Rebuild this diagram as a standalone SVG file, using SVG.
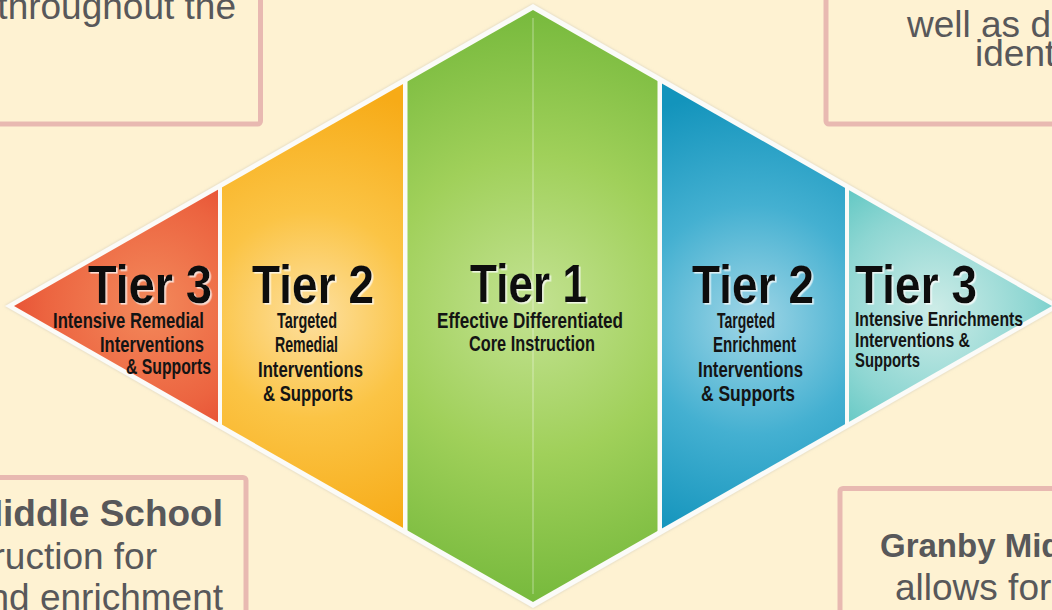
<svg xmlns="http://www.w3.org/2000/svg" width="1052" height="610" viewBox="0 0 1052 610">
  <style>
    .box { fill: #fef2d2; stroke: #e8b9b1; stroke-width: 5; }
    .btxt { font-family: "Liberation Sans", Arial, sans-serif; font-size: 37px; fill: #58585a; }
    .bold { font-weight: bold; }
    .tier { font-family: "Liberation Sans", Arial, sans-serif; font-weight: bold; font-size: 53px; fill: #111; filter: url(#ts); }
    .sub { font-family: "Liberation Sans", Arial, sans-serif; font-weight: bold; font-size: 22px; fill: #141414; }
    .sub2 { font-family: "Liberation Sans", Arial, sans-serif; font-weight: bold; font-size: 21px; fill: #141414; }
  </style>
  <defs>
    <filter id="ts" x="-10%" y="-20%" width="120%" height="140%">
      <feDropShadow dx="1.6" dy="1.6" stdDeviation="0.7" flood-color="#ffffff" flood-opacity="0.75"/>
    </filter>
    <filter id="halo" x="-5%" y="-5%" width="110%" height="110%">
      <feDropShadow dx="0" dy="0" stdDeviation="1.5" flood-color="#b8b4aa" flood-opacity="0.6"/>
    </filter>
    <clipPath id="inner">
      <polygon points="533,10 1052,306 533,602 14,306"/>
    </clipPath>
    <radialGradient id="gRed" gradientUnits="userSpaceOnUse" cx="150" cy="305" r="175">
      <stop offset="0" stop-color="#f3895b"/>
      <stop offset="0.6" stop-color="#ec6440"/>
      <stop offset="1" stop-color="#e3412a"/>
    </radialGradient>
    <radialGradient id="gYel" gradientUnits="userSpaceOnUse" cx="312" cy="315" r="230">
      <stop offset="0" stop-color="#fde0a0"/>
      <stop offset="0.45" stop-color="#fbc445"/>
      <stop offset="1" stop-color="#f7ab17"/>
    </radialGradient>
    <radialGradient id="gGrn" gradientUnits="userSpaceOnUse" cx="533" cy="305" r="300">
      <stop offset="0" stop-color="#c3e292"/>
      <stop offset="0.5" stop-color="#a0d05a"/>
      <stop offset="1" stop-color="#76b93c"/>
    </radialGradient>
    <radialGradient id="gBlu" gradientUnits="userSpaceOnUse" cx="752" cy="320" r="230">
      <stop offset="0" stop-color="#a0d6e6"/>
      <stop offset="0.5" stop-color="#44b0d1"/>
      <stop offset="1" stop-color="#1394bc"/>
    </radialGradient>
    <radialGradient id="gTeal" gradientUnits="userSpaceOnUse" cx="935" cy="310" r="180">
      <stop offset="0" stop-color="#cdece7"/>
      <stop offset="0.55" stop-color="#8dd6d2"/>
      <stop offset="1" stop-color="#48bfbb"/>
    </radialGradient>
  </defs>

  <rect x="0" y="0" width="1052" height="610" fill="#fef2d2"/>

  <!-- text boxes -->
  <g id="box-top-left">
    <rect class="box" x="-20" y="-20" width="280.5" height="144" rx="3"/>
    <text class="btxt" x="236" y="19" text-anchor="end">throughout the</text>
  </g>
  <g id="box-top-right">
    <rect class="box" x="826" y="-20" width="260" height="144" rx="3"/>
    <text class="btxt" x="907" y="37">well as d</text>
    <text class="btxt" x="975" y="66">ident</text>
  </g>
  <g id="box-bottom-left">
    <rect class="box" x="-20" y="477.5" width="266" height="160" rx="3"/>
    <text class="btxt bold" x="223" y="526" text-anchor="end">Middle School</text>
    <text class="btxt" x="157" y="569" text-anchor="end">ruction for</text>
    <text class="btxt" x="223" y="610" text-anchor="end">nd enrichment</text>
  </g>
  <g id="box-bottom-right">
    <rect class="box" x="840" y="488.5" width="260" height="160" rx="3"/>
    <text class="btxt bold" x="880" y="557" style="font-size:33px">Granby Middle School</text>
    <text class="btxt" x="895" y="600">allows for</text>
  </g>

  <!-- diamond frame -->
  <polygon points="533,4 1061,306 533,608 5,306" fill="#fbfbf8" filter="url(#halo)"/>

  <g clip-path="url(#inner)">
    <g id="tier3-left">
      <rect x="0" y="0" width="218" height="610" fill="url(#gRed)"/>
    </g>
    <g id="tier2-left">
      <rect x="222" y="0" width="181" height="610" fill="url(#gYel)"/>
    </g>
    <g id="tier1">
      <rect x="407.5" y="0" width="250" height="610" fill="url(#gGrn)"/>
      <line x1="533" y1="18" x2="533" y2="594" stroke="#ffffff" stroke-opacity="0.3" stroke-width="1.5"/>
    </g>
    <g id="tier2-right">
      <rect x="662" y="0" width="183" height="610" fill="url(#gBlu)"/>
    </g>
    <g id="tier3-right">
      <rect x="849" y="0" width="210" height="610" fill="url(#gTeal)"/>
    </g>
  </g>

  <!-- tier labels -->
  <g id="tier3-left-label">
    <text class="tier" x="88" y="303" textLength="124" lengthAdjust="spacingAndGlyphs">Tier 3</text>
    <text class="sub" x="53" y="328" textLength="151" lengthAdjust="spacingAndGlyphs">Intensive Remedial</text>
    <text class="sub" x="100" y="352" textLength="104" lengthAdjust="spacingAndGlyphs">Interventions</text>
    <text class="sub" x="126" y="374" textLength="85" lengthAdjust="spacingAndGlyphs">&amp; Supports</text>
  </g>
  <g id="tier2-left-label">
    <text class="tier" x="252" y="303" textLength="122" lengthAdjust="spacingAndGlyphs">Tier 2</text>
    <text class="sub" x="277" y="328" textLength="60" lengthAdjust="spacingAndGlyphs">Targeted</text>
    <text class="sub" x="275" y="352" textLength="63" lengthAdjust="spacingAndGlyphs">Remedial</text>
    <text class="sub" x="258" y="377" textLength="105" lengthAdjust="spacingAndGlyphs">Interventions</text>
    <text class="sub" x="263" y="401" textLength="90" lengthAdjust="spacingAndGlyphs">&amp; Supports</text>
  </g>
  <g id="tier1-label">
    <text class="tier" x="470" y="302" textLength="117" lengthAdjust="spacingAndGlyphs">Tier 1</text>
    <text class="sub" x="437" y="328" textLength="186" lengthAdjust="spacingAndGlyphs">Effective Differentiated</text>
    <text class="sub" x="469" y="351" textLength="126" lengthAdjust="spacingAndGlyphs">Core Instruction</text>
  </g>
  <g id="tier2-right-label">
    <text class="tier" x="692" y="303" textLength="122" lengthAdjust="spacingAndGlyphs">Tier 2</text>
    <text class="sub" x="717" y="328" textLength="58" lengthAdjust="spacingAndGlyphs">Targeted</text>
    <text class="sub" x="713" y="352" textLength="83" lengthAdjust="spacingAndGlyphs">Enrichment</text>
    <text class="sub" x="698" y="377" textLength="105" lengthAdjust="spacingAndGlyphs">Interventions</text>
    <text class="sub" x="701" y="401" textLength="94" lengthAdjust="spacingAndGlyphs">&amp; Supports</text>
  </g>
  <g id="tier3-right-label">
    <text class="tier" x="855" y="303" textLength="122" lengthAdjust="spacingAndGlyphs">Tier 3</text>
    <text class="sub2" x="855" y="326" textLength="168" lengthAdjust="spacingAndGlyphs">Intensive Enrichments</text>
    <text class="sub2" x="855" y="347" textLength="115" lengthAdjust="spacingAndGlyphs">Interventions &amp;</text>
    <text class="sub2" x="855" y="367" textLength="65" lengthAdjust="spacingAndGlyphs">Supports</text>
  </g>

  <g id="connectors"/>
</svg>
